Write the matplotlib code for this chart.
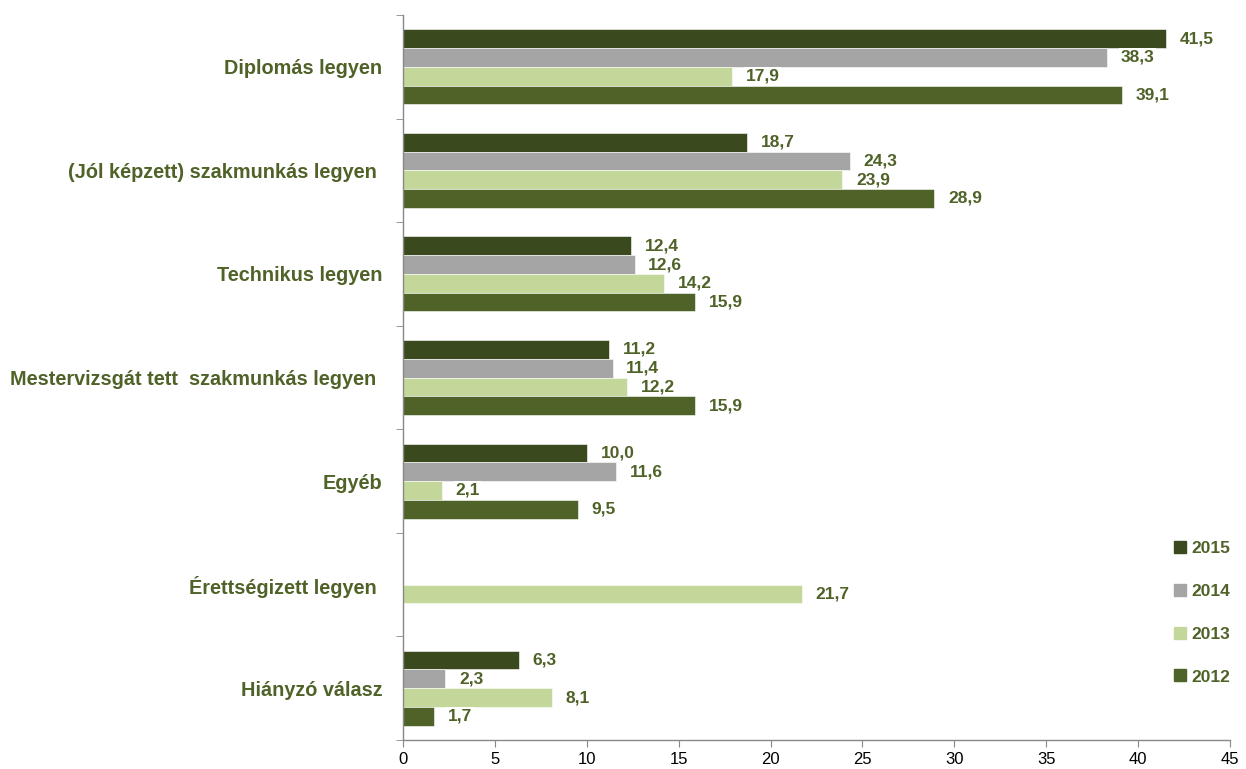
import numpy as np
import matplotlib
matplotlib.use("Agg")
import matplotlib.pyplot as plt
from matplotlib.lines import Line2D

plt.rcParams['font.family'] = ['Liberation Sans', 'DejaVu Sans']

categories = ["Diplomás legyen", "(Jól képzett) szakmunkás legyen ", "Technikus legyen",
              "Mestervizsgát tett  szakmunkás legyen ", "Egyéb", "Érettségizett legyen ",
              "Hiányzó válasz"]
years = ["2015", "2014", "2013", "2012"]
v2015 = [41.5, 18.7, 12.4, 11.2, 10.0, np.nan, 6.3]
v2014 = [38.3, 24.3, 12.6, 11.4, 11.6, np.nan, 2.3]
v2013 = [17.9, 23.9, 14.2, 12.2, 2.1, 21.7, 8.1]
v2012 = [39.1, 28.9, 15.9, 15.9, 9.5, np.nan, 1.7]
series = [v2015, v2014, v2013, v2012]
colors = ["#3B4A1E", "#A5A5A5", "#C4D79B", "#4F6228"]
label_color = "#4F6228"

fig = plt.figure(figsize=(12.46, 7.69), dpi=100)
ax = fig.add_axes([403/1246, 1-740/769, 827/1246, 725/769])

n = len(categories)
y = np.arange(n)
h = 0.181
offsets = [-1.5*h, -0.5*h, 0.5*h, 1.5*h]
for vals, col, off in zip(series, colors, offsets):
    for yi, v in zip(y, vals):
        if np.isnan(v):
            continue
        ax.barh(yi + off, v, height=h, color=col, edgecolor='white', linewidth=0.4)
        ax.text(v + 0.75, yi + off, f"{v:.1f}".replace('.', ','), ha='left', va='center',
                fontsize=12.5, fontweight='bold', color=label_color,
                bbox=dict(boxstyle='square,pad=0.1', fc='white', ec='none'))

ax.set_xlim(0, 45)
ax.set_ylim(n - 0.5, -0.5)
ax.set_xticks(np.arange(0, 46, 5))
ax.tick_params(axis='x', labelsize=12, length=5, color='#888888', direction='out', pad=4)
ax.set_yticks(y)
ax.set_yticklabels(categories, fontsize=14.3, fontweight='bold', color=label_color)
ax.tick_params(axis='y', which='major', length=0, pad=15)
ax.set_yticks(np.arange(-0.5, n, 1), minor=True)
ax.tick_params(axis='y', which='minor', length=5, color='#888888', direction='out')
for s in ['top', 'right']:
    ax.spines[s].set_visible(False)
for s in ['left', 'bottom']:
    ax.spines[s].set_color('#888888')
    ax.spines[s].set_linewidth(1.0)

handles = [Line2D([0], [0], marker='s', linestyle='none', markersize=8,
                  markerfacecolor=c, markeredgecolor=c) for c in colors]
leg = fig.legend(handles, years, loc='upper left', bbox_to_anchor=(1156/1246, 1-525/769),
                 frameon=False, labelspacing=1.6, handletextpad=0.15, handlelength=1.0,
                 prop={'weight': 'bold', 'size': 12.5})
for t in leg.get_texts():
    t.set_color(label_color)

fig.savefig("out.png", dpi=100)
